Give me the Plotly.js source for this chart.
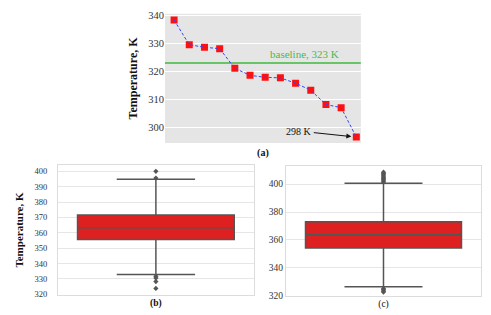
<!DOCTYPE html>
<html><head><meta charset="utf-8">
<script src="https://cdn.plot.ly/plotly-3.0.1.min.js"></script>
<style>html,body{margin:0;padding:0;background:#fff}#chart{width:491px;height:315px}</style>
</head><body><div id="chart"></div>
<script>
// Panel (a): temperature series
const aIndex = [1,2,3,4,5,6,7,8,9,10,11,12,13];
const aTemp = [338.3, 329.5, 328.6, 328.1, 321.1, 318.6, 317.9, 317.7, 315.8, 313.3, 308.2, 307.1, 296.6];
const baselineTemp = 323;
const baselineLabel = "baseline, 323 K";
const minLabel = "298 K";
// Panel (b): box statistics
const bStats = {q1: 355.6, median: 363.3, q3: 371.5, lower: 332.9, upper: 394.8};
const bOutliers = [399.9, 395.6, 331.7, 330.6, 328.3, 323.9];
// Panel (c): box statistics
const cStats = {q1: 354.3, median: 363.7, q3: 373.1, lower: 326.4, upper: 400.7};
const cOutliers = [401.5, 402.3, 403.2, 404.1, 405.0, 405.9, 406.8, 407.7, 408.6, 322.6, 323.4, 324.2, 325.1];
const yTicksA = [300, 310, 320, 330, 340];
const yTicksB = [320, 330, 340, 350, 360, 370, 380, 390, 400];
const yTicksC = [320, 340, 360, 380, 400];

const FONT = "Liberation Serif";
const boxFill = "#df2020", boxLine = "#555555";

function boxTrace(s, xa, ya) {
  return {type: 'box', x: [0], q1: [s.q1], median: [s.median], q3: [s.q3],
    lowerfence: [s.lower], upperfence: [s.upper], width: 0.8, whiskerwidth: 0.5,
    fillcolor: boxFill, line: {color: boxLine, width: 1.5}, boxpoints: false,
    xaxis: xa, yaxis: ya, hoverinfo: 'skip'};
}
function outTrace(vals, xa, ya) {
  return {type: 'scatter', mode: 'markers', x: vals.map(() => 0), y: vals,
    marker: {symbol: 'diamond', size: 4, color: '#555555'}, xaxis: xa, yaxis: ya, hoverinfo: 'skip'};
}

const traces = [
  {type: 'scatter', mode: 'lines', x: [0.4, 13.3], y: [baselineTemp, baselineTemp],
   line: {color: '#3cb83c', width: 1.3}, xaxis: 'x', yaxis: 'y'},
  {type: 'scatter', mode: 'markers', x: aIndex, y: aTemp,
   marker: {symbol: 'square', size: 7, color: '#ff1010'}, xaxis: 'x', yaxis: 'y'},
  {type: 'scatter', mode: 'lines', x: aIndex, y: aTemp,
   line: {color: '#3344ff', width: 1, dash: '3px,2px'}, xaxis: 'x', yaxis: 'y'},
  boxTrace(bStats, 'x2', 'y2'), outTrace(bOutliers, 'x2', 'y2'),
  boxTrace(cStats, 'x3', 'y3'), outTrace(cOutliers, 'x3', 'y3')
];

const tickF = (s) => ({family: FONT, size: s, color: '#333'});
const layout = {
  width: 491, height: 315, margin: {l: 0, r: 0, t: 0, b: 0},
  paper_bgcolor: '#fff', plot_bgcolor: 'rgba(0,0,0,0)', showlegend: false,
  font: {family: FONT, color: '#222'},
  xaxis: {domain: [0.336, 0.735], anchor: 'y', range: [0.4, 13.3], showticklabels: false, ticks: '',
    showgrid: false, zeroline: false, showline: false,
    title: {text: '<b>(a)</b>', font: {family: FONT, size: 10, color: '#111'}, standoff: 5}},
  yaxis: {domain: [0.546, 0.956], anchor: 'x', range: [294.5, 340.5], tickvals: yTicksA, ticks: '',
    gridcolor: '#ffffff', gridwidth: 1, zeroline: false, showline: false, tickfont: tickF(10.5),
    title: {text: '<b>Temperature, K</b>', font: {family: FONT, size: 12, color: '#111'}, standoff: 8}},
  xaxis2: {domain: [0.118, 0.517], anchor: 'y2', range: [-0.5, 0.5], showticklabels: false, ticks: '',
    showgrid: false, zeroline: false, showline: true, mirror: true, linecolor: '#dcdcdc', linewidth: 1,
    title: {text: '<b>(b)</b>', font: {family: FONT, size: 9.5, color: '#111'}, standoff: 4}},
  yaxis2: {domain: [0.0635, 0.476], anchor: 'x2', range: [319.6, 404], tickvals: yTicksB, ticks: '',
    gridcolor: '#e6e6e6', zeroline: false, showline: true, mirror: true, linecolor: '#dcdcdc', linewidth: 1,
    tickfont: tickF(8.5), ticklabelstandoff: 8,
    title: {text: '<b>Temperature, K</b>', font: {family: FONT, size: 11, color: '#111'}, standoff: 8}},
  xaxis3: {domain: [0.5825, 0.9796], anchor: 'y3', range: [-0.5, 0.5], showticklabels: false, ticks: '',
    showgrid: false, zeroline: false, showline: true, mirror: true, linecolor: '#dcdcdc', linewidth: 1,
    title: {text: '(c)', font: {family: FONT, size: 9.5, color: '#111'}, standoff: 4}},
  yaxis3: {domain: [0.0603, 0.473], anchor: 'x3', range: [319.8, 413], tickvals: yTicksC, ticks: '',
    gridcolor: '#e6e6e6', zeroline: false, showline: true, mirror: true, linecolor: '#dcdcdc', linewidth: 1,
    tickfont: tickF(9.5)},
  shapes: [{type: 'rect', xref: 'x domain', yref: 'y domain', x0: 0, x1: 1, y0: 0, y1: 1,
    fillcolor: '#e5e5e5', line: {width: 0}, layer: 'below'}],
  annotations: [
    {xref: 'x', yref: 'y', x: 9.6, y: baselineTemp, yanchor: 'bottom', yshift: 1, text: baselineLabel,
     showarrow: false, font: {family: FONT, size: 11, color: '#4cb84c'}},
    {xref: 'x', yref: 'y', x: aIndex[12], y: aTemp[12], text: minLabel, showarrow: true,
     ax: -57, ay: -6, arrowhead: 2, arrowsize: 1, arrowwidth: 1, arrowcolor: '#111', standoff: 5,
     font: {family: FONT, size: 10, color: '#111'}}
  ]
};
Plotly.newPlot('chart', traces, layout, {staticPlot: true, displayModeBar: false});
</script></body></html>
